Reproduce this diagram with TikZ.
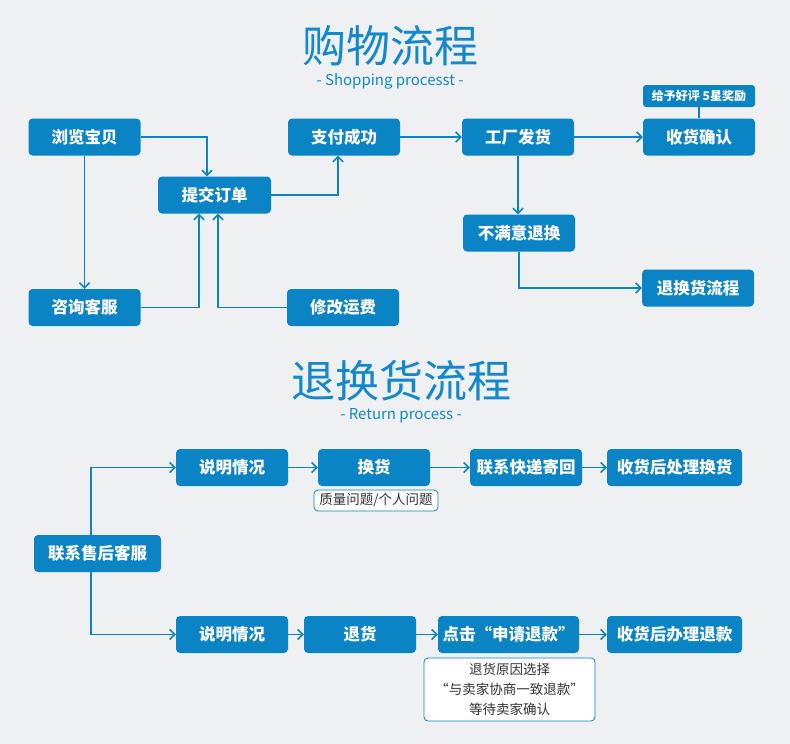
\documentclass[tikz,border=0pt]{standalone}
\usepackage{fontspec}
\setmainfont{Noto Sans CJK SC}
\usetikzlibrary{arrows.meta}
\definecolor{bg}{HTML}{EFF0F1}
\definecolor{boxblue}{HTML}{0B84C6}
\definecolor{titleblue}{HTML}{1488CC}
\definecolor{txtdark}{HTML}{333333}
\tikzset{
  bx/.style={fill=boxblue, rounded corners=4pt, text=white, font=\bfseries\fontsize{16.5}{18}\selectfont, minimum height=37pt, inner sep=0pt, minimum width=#1},
  bx/.default=112pt,
  conn/.style={draw=boxblue, line width=1.6pt, -{Straight Barb[length=5pt,width=10pt,line width=1.6pt]}},
  plain/.style={draw=boxblue, line width=1.6pt},
  tag/.style={draw=boxblue, line width=0.8pt, rounded corners=4pt, fill=white, text=txtdark, inner sep=0pt},
  ttl/.style={text=titleblue, font=\fontsize{44}{48}\selectfont},
  sub/.style={text=titleblue, font=\fontsize{15}{17}\selectfont},
}
\begin{document}
\begin{tikzpicture}[x=1pt,y=-1pt]
\fill[bg] (0,0) rectangle (790,744);
\useasboundingbox (0,0) rectangle (790,744);

% Titles
\node[ttl] (t1) at (390,46) {购物流程};
\node[sub] (s1) at (390,81) {- Shopping processt -};
\node[ttl] (t2) at (401,381) {退换货流程};
\node[sub] (s2) at (401,416) {- Return process -};

% Top section
\node[bx] (browse) at (84.5,137) {浏览宝贝};
\node[bx=113pt] (submit) at (214.5,195) {提交订单};
\node[bx] (pay) at (344,137) {支付成功};
\node[bx] (ship) at (518,137) {工厂发货};
\node[bx] (confirm) at (699,137) {收货确认};
\node[fill=boxblue, rounded corners=3pt, text=white, font=\bfseries\fontsize{12}{13}\selectfont, minimum width=112pt, minimum height=22pt, inner sep=0pt] (praise) at (699,96) {给予好评 5星奖励};
\node[bx] (unsat) at (519,233) {不满意退换};
\node[bx] (retflow) at (698,288) {退换货流程};
\node[bx] (consult) at (84.5,307.5) {咨询客服};
\node[bx] (fee) at (343,307.5) {修改运费};

\draw[plain] (praise.south) -- (confirm.north);
\draw[conn] (browse.east) -| ([xshift=-7.5pt]submit.north);
\draw[conn] (browse.south) -- (consult.north);
\draw[conn] (consult.east) -| ([xshift=-15.5pt]submit.south);
\draw[conn] (fee.west) -| ([xshift=3.5pt]submit.south);
\draw[conn] (submit.east) -| ([xshift=-6pt]pay.south);
\draw[conn] (pay.east) -- (ship.west);
\draw[conn] (ship.east) -- (confirm.west);
\draw[conn] (ship.south) -- (ship.south |- unsat.north);
\draw[conn] (unsat.south) |- (retflow.west);

% Bottom section
\node[bx=127pt] (cs) at (97.5,553.5) {联系售后客服};
\node[bx] (ex1) at (232,467.5) {说明情况};
\node[bx] (swap) at (374,467.5) {换货};
\node[bx] (post) at (526,467.5) {联系快递寄回};
\node[bx=135pt] (doswap) at (674.5,467.5) {收货后处理换货};
\node[tag, minimum width=124pt, minimum height=21pt, font=\fontsize{13.5}{15}\selectfont] (reason) at (376,500.5) {质量问题/个人问题};

\node[bx] (ex2) at (232,634.5) {说明情况};
\node[bx] (ret) at (360,634.5) {退货};
\node[bx=141pt] (apply) at (508.5,634.5) {点击“申请退款”};
\node[bx=135pt] (refund) at (674.5,634.5) {收货后办理退款};
\node[tag, minimum width=171pt, minimum height=63pt, align=center, font=\fontsize{13.5}{20}\selectfont] (note) at (509.5,689.5) {退货原因选择\\“与卖家协商一致退款”\\等待卖家确认};

\coordinate (cx) at (91,0);
\draw[conn] (cx |- cs.north) |- (ex1.west);
\draw[conn] (cx |- cs.south) |- (ex2.west);
\draw[conn] (ex1.east) -- (swap.west);
\draw[conn] (swap.east) -- (post.west);
\draw[conn] (post.east) -- (doswap.west);
\draw[conn] (ex2.east) -- (ret.west);
\draw[conn] (ret.east) -- (apply.west);
\draw[conn] (apply.east) -- (refund.west);
\end{tikzpicture}
\end{document}
